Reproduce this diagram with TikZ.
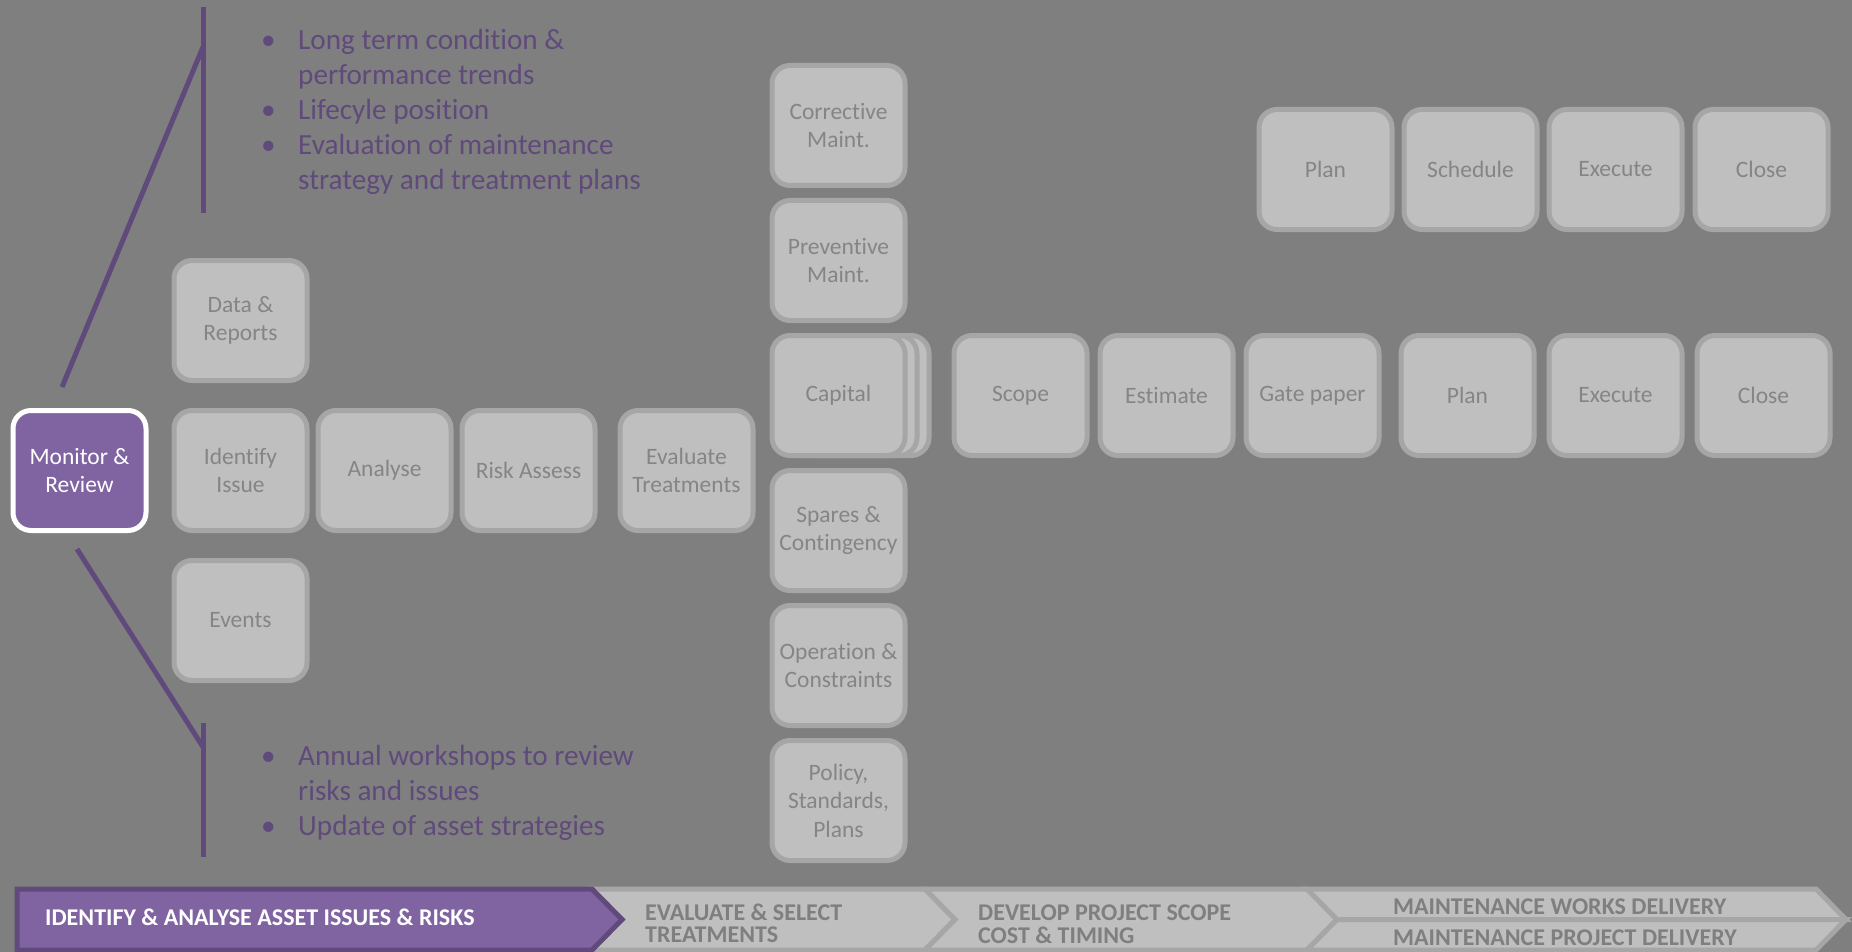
\documentclass[tikz,border=0pt]{standalone}
\usepackage{fontspec}
\setmainfont{Carlito}[Ligatures=NoCommon]
\usepackage{tikz}
\usetikzlibrary{positioning}
\definecolor{canvasgrey}{HTML}{7F7F7F}
\definecolor{boxfill}{HTML}{BFBFBF}
\definecolor{boxline}{HTML}{A6A6A6}
\definecolor{boxtext}{HTML}{858585}
\definecolor{reviewpurple}{HTML}{8064A2}
\definecolor{reviewdark}{HTML}{604A7B}
\tikzstyle{block} = [rectangle, draw=boxline, line width=5pt, rounded corners=18pt,
    fill=boxfill, text=boxtext, align=center, minimum width=133pt, minimum height=120pt,
    inner sep=2pt, font=\fontsize{23.5}{28.5}\selectfont]
\tikzstyle{monitor} = [block, draw=white, fill=reviewpurple, text=white]
\tikzstyle{bracket} = [line width=5pt, reviewdark]
\tikzstyle{notes} = [anchor=base west, inner sep=0pt, text=reviewdark,
    font=\fontsize{29.2}{35}\selectfont]
\tikzstyle{stage} = [draw=boxline, line width=5pt, fill=boxfill]
\tikzstyle{stagetext} = [anchor=base west, inner sep=0pt, text=canvasgrey,
    font=\bfseries\fontsize{24}{22}\selectfont]

\begin{document}
\begin{tikzpicture}[x=1pt, y=-1pt]
\fill[canvasgrey] (0,0) rectangle (1852,952);
\useasboundingbox (0,0) rectangle (1852,952);

% identify and analyse
\node[monitor] (monitor) at (79.5,470.5) {Monitor \&\\Review};
\node[block, right=23pt of monitor] (identify) {Identify\\Issue};
\node[block, above=25pt of identify] (data) {Data \&\\Reports};
\node[block, below=25pt of identify] (events) {Events};
\node[block, right=6pt of identify] (analyse) {Analyse};
\node[block, right=6pt of analyse] (risk) {Risk Assess};
\node[block, right=20pt of risk] (evaluate) {Evaluate\\Treatments};

% treatment column
\node[block] (capC) at (862.5,395.5) {};
\node[block] (capB) at (850.5,395.5) {};
\node[block] (capital) at (838.5,395.5) {Capital};
\node[block, above=10pt of capital] (preventive) {Preventive\\Maint.};
\node[block, above=10pt of preventive] (corrective) {Corrective\\Maint.};
\node[block, below=10pt of capital] (spares) {Spares \&\\Contingency};
\node[block, below=10pt of spares] (operation) {Operation \&\\Constraints};
\node[block, below=10pt of operation] (policy) {Policy,\\Standards,\\Plans};

% project delivery
\node[block, right=44pt of capital] (scope) {Scope};
\node[block, right=8pt of scope] (estimate) {Estimate};
\node[block, right=8pt of estimate] (gate) {Gate paper};
\node[block, right=17pt of gate] (planB) {Plan};
\node[block, right=10pt of planB] (executeB) {Execute};
\node[block, right=10pt of executeB] (closeB) {Close};

% works delivery
\node[block, above=101pt of executeB] (executeA) {Execute};
\node[block, left=7pt of executeA] (scheduleA) {Schedule};
\node[block, left=7pt of scheduleA] (planA) {Plan};
\node[block, right=8pt of executeA] (closeA) {Close};

% callouts
\coordinate (upperfoot) at (62,387);
\coordinate (upperknee) at (203,47);
\coordinate (uppertop) at (203,7);
\coordinate (upperend) at (203,213);
\coordinate (lowerfoot) at (77,549);
\coordinate (lowerknee) at (203,747);
\coordinate (lowertop) at (203,723);
\coordinate (lowerend) at (203,857);
\draw[bracket] (upperfoot) -- (upperknee);
\draw[bracket] (uppertop) -- (upperend);
\draw[bracket] (lowerfoot) -- (lowerknee);
\draw[bracket] (lowertop) -- (lowerend);
\node[notes] (upperlist) at (261,50) {\begin{tabular}[t]{@{}p{37pt}@{}l@{}}
  • & Long term condition \&\\
    & performance trends\\
  • & Lifecyle position\\
  • & Evaluation of maintenance\\
    & strategy and treatment plans
\end{tabular}};
\node[notes] (lowerlist) at (261,765) {\begin{tabular}[t]{@{}p{37pt}@{}l@{}}
  • & Annual workshops to review\\
    & risks and issues\\
  • & Update of asset strategies
\end{tabular}};

% stage bar
\draw[stage] (592,889) -- (925,889) -- (955,919.5) -- (925,950) -- (592,950) -- (622,919.5) -- cycle;
\draw[stage] (925,889) -- (1307,889) -- (1337,919.5) -- (1307,950) -- (925,950) -- (955,919.5) -- cycle;
\draw[stage] (1307,889) -- (1816,889) -- (1846,919.5) -- (1337,919.5) -- cycle;
\draw[stage] (1337,919.5) -- (1846,919.5) -- (1816,950) -- (1307,950) -- cycle;
\draw[stage, draw=reviewdark, fill=reviewpurple] (17,889) -- (592,889) -- (622,919.5) -- (592,950) -- (17,950) -- cycle;
\node[stagetext, text=white] (stage1) at (45,925) {IDENTIFY \& ANALYSE ASSET ISSUES \& RISKS};
\node[stagetext] (stage2) at (645,920) {\begin{tabular}[t]{@{}l@{}}EVALUATE \& SELECT\\TREATMENTS\end{tabular}};
\node[stagetext] (stage3) at (978,920) {\begin{tabular}[t]{@{}l@{}}DEVELOP PROJECT SCOPE\\COST \& TIMING\end{tabular}};
\node[stagetext] (stage4a) at (1393,914) {MAINTENANCE WORKS DELIVERY};
\node[stagetext] (stage4b) at (1393,945) {MAINTENANCE PROJECT DELIVERY};
\end{tikzpicture}
\end{document}
